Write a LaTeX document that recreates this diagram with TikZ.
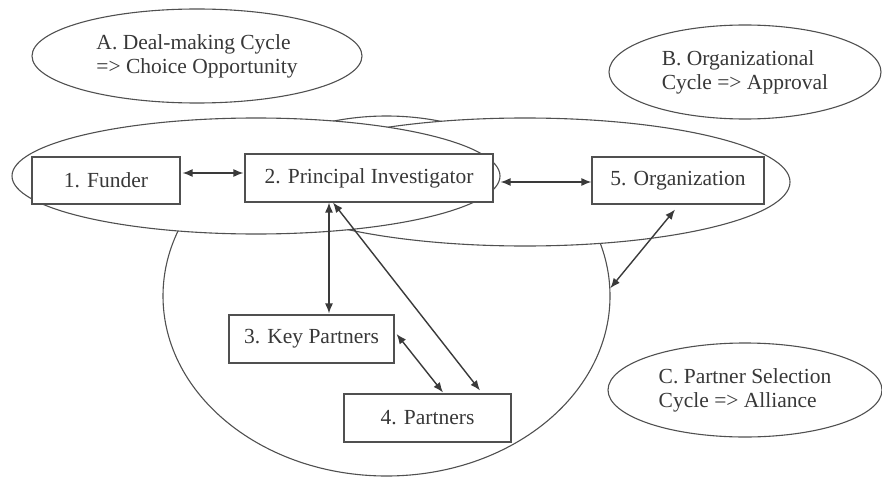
\documentclass[tikz,border=0pt]{standalone}
\usepackage{fontspec}
\setmainfont{Liberation Serif}
\usetikzlibrary{shapes.geometric,arrows.meta,calc}

\definecolor{inkline}{HTML}{505050}
\definecolor{inkarrow}{HTML}{3A3A3A}
\definecolor{inktext}{HTML}{383838}

\tikzset{
  region/.style={draw=inkline, line width=1.1pt, fill=white, ellipse, inner sep=0pt},
  tag/.style={draw=inkline, line width=1.1pt, fill=white, ellipse, inner sep=0pt,
    text=inktext, align=left, font=\rmfamily\fontsize{21.5}{24}\selectfont},
  actor/.style={draw=inkline, line width=1.1pt, fill=white, rectangle, inner sep=0pt,
    text=inktext, font=\rmfamily\fontsize{21.5}{24}\selectfont},
  link/.style={draw=inkarrow, line width=1.4pt,
    {Latex[length=10pt,width=8pt]}-{Latex[length=10pt,width=8pt]}}
}

\begin{document}
\begin{tikzpicture}[x=1pt, y=-1pt]
\useasboundingbox (0,0) rectangle (882,476);

% the three overlapping cycles (painted back to front)
\node[region, minimum width=447pt, minimum height=360pt] (selC) at (386.5,296) {};
\node[region, minimum width=530pt, minimum height=128pt] (orgB) at (525,182) {};
\node[region, minimum width=488pt, minimum height=116pt] (dealA) at (256,176) {};

% cycle labels
\node[tag, minimum width=330pt, minimum height=94pt] (tagA) at (197,56)
  {A. Deal-making Cycle\\=> Choice Opportunity};
\node[tag, minimum width=272pt, minimum height=94pt] (tagB) at (745,72)
  {B. Organizational\\Cycle => Approval};
\node[tag, minimum width=274pt, minimum height=94pt] (tagC) at (745,390)
  {C. Partner Selection\\Cycle => Alliance};

% actors
\node[actor, minimum width=148pt, minimum height=47pt] (fund) at (106,180.5) {1. Funder};
\node[actor, minimum width=248pt, minimum height=48pt] (pi) at (369,178) {2. Principal Investigator};
\node[actor, minimum width=172pt, minimum height=47pt] (org) at (678,180.5) {5. Organization};
\node[actor, minimum width=165pt, minimum height=48pt] (kp) at (311.5,339) {3. Key Partners};
\node[actor, minimum width=167pt, minimum height=48pt] (part) at (427.5,418) {4. Partners};

% relations
\coordinate (fp) at ([yshift=7.5pt]fund.east);
\draw[link] ([xshift=2pt]fp) -- ([xshift=-1pt]fp -| pi.west);

\coordinate (po) at ([yshift=-1.5pt]org.west);
\draw[link] (po -| dealA.east) -- (po);

\coordinate (pk) at ([xshift=17.5pt]kp.north);
\draw[link] (pk |- pi.south) -- ([yshift=1pt]pk);

\draw[link] ([xshift=-36pt]pi.south) -- ([xshift=52.5pt,yshift=3pt]part.north);

\draw[link] ([xshift=2pt,yshift=5pt]kp.east) -- ([xshift=15.5pt,yshift=1pt]part.north);

\draw[link] ([xshift=-3pt,yshift=-5pt]org.south) -- (selC.2);
\end{tikzpicture}
\end{document}
